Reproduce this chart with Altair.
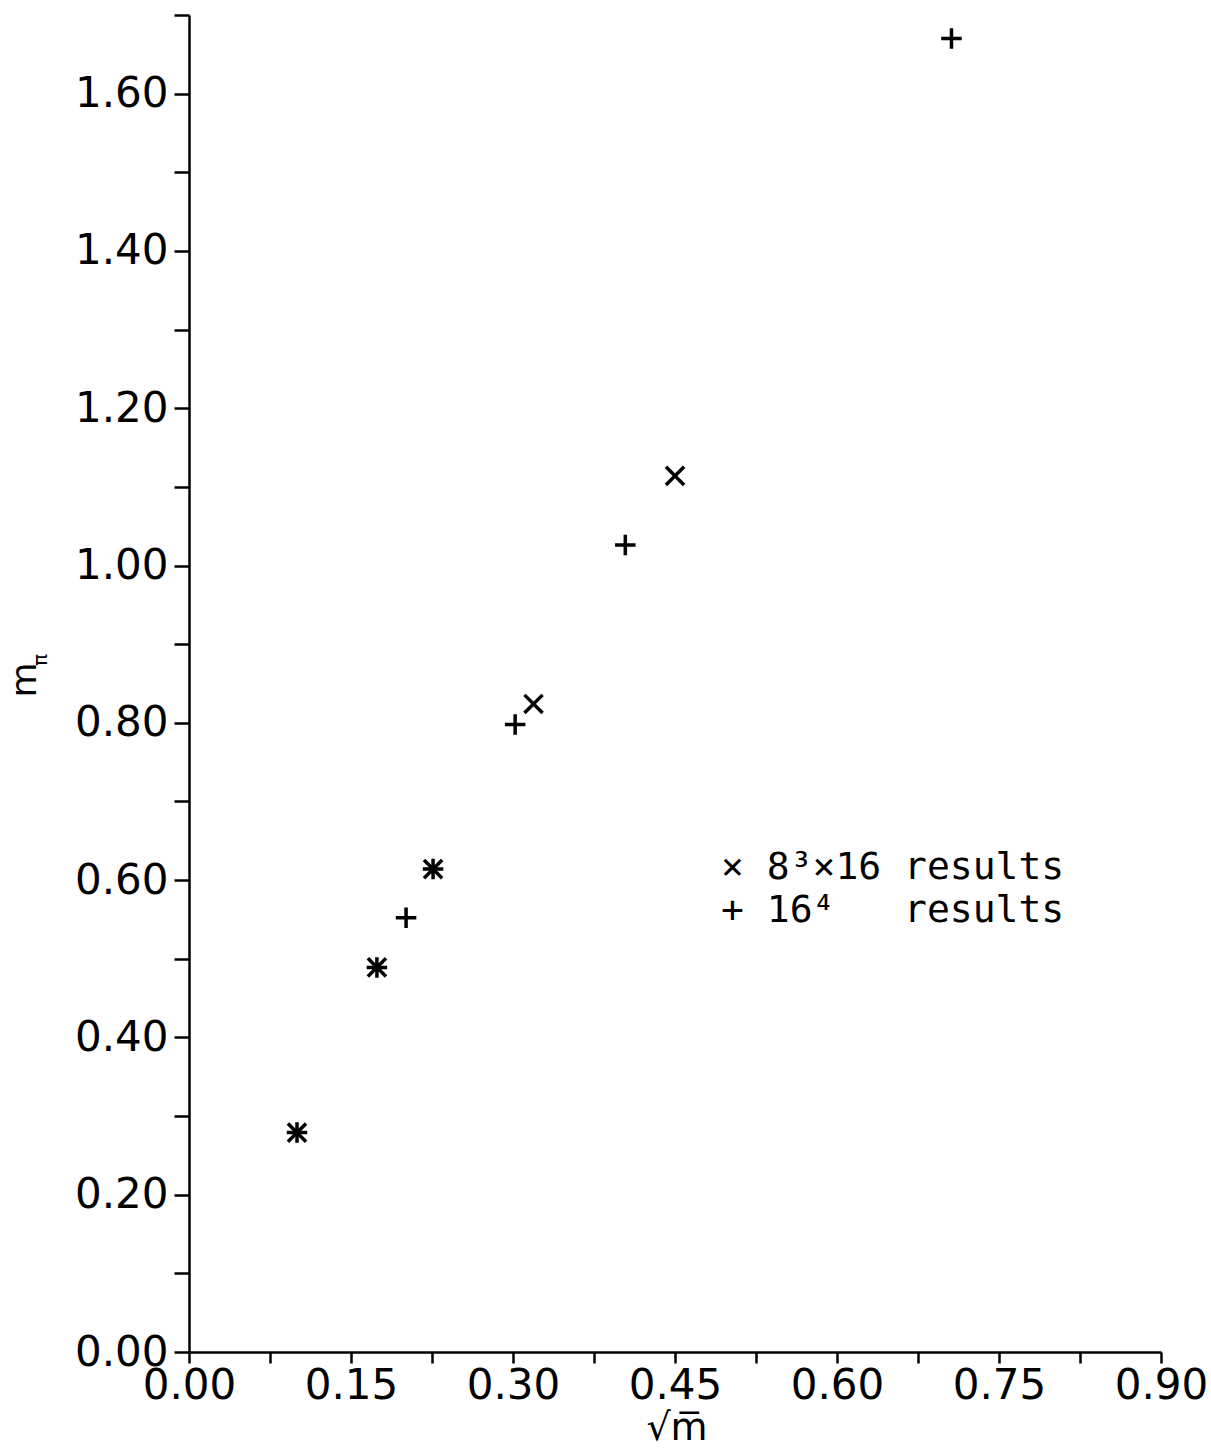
import altair as alt
import pandas as pd

# pion mass vs sqrt(quark mass)
# 8^3 x 16 lattice
x_8 = [0.100, 0.174, 0.226, 0.319, 0.450]
y_8 = [0.279, 0.489, 0.614, 0.824, 1.114]
# 16^4 lattice
x_16 = [0.100, 0.174, 0.201, 0.226, 0.302, 0.404, 0.706]
y_16 = [0.279, 0.489, 0.552, 0.614, 0.798, 1.026, 1.670]

NB = "\u00a0"
legend_rows = [f"\u00d7{NB}8\u00b3\u00d716{NB}results", f"+{NB}16\u2074{NB}{NB}{NB}results"]

x_ticks = [round(i * 0.075, 3) for i in range(13)]
y_ticks = [round(i * 0.1, 1) for i in range(18)]

LABEL_FONT = "DejaVu Sans"
MONO = "DejaVu Sans Mono"
PLUS = "M-1,0L1,0M0,-1L0,1"
CROSS = "M-1,-1L1,1M-1,1L1,-1"

df8 = pd.DataFrame({"x": x_8, "y": y_8})
df16 = pd.DataFrame({"x": x_16, "y": y_16})

x_scale = alt.Scale(domain=[0, 0.9], nice=False, zero=False)
y_scale = alt.Scale(domain=[0, 1.7], nice=False, zero=False)

x_axis = alt.Axis(
    values=x_ticks, title=None, grid=False,
    labelExpr="round(datum.value / 0.075) % 2 == 0 ? format(datum.value, '.2f') : ''",
    labelFont=LABEL_FONT, labelFontSize=42, labelColor="black", labelPadding=2,
    labelOverlap=False, labelFlush=False, labelBound=False,
    tickSize=11, tickWidth=2.5, tickColor="black",
    domainColor="black", domainWidth=2.5,
)
y_axis = alt.Axis(
    values=y_ticks, title=None, grid=False,
    labelExpr="round(datum.value * 10) % 2 == 0 ? format(datum.value, '.2f') : ''",
    labelFont=LABEL_FONT, labelFontSize=42, labelColor="black", labelPadding=6,
    labelOverlap=False, labelFlush=False, labelBound=False,
    tickSize=15, tickWidth=2.5, tickColor="black",
    domainColor="black", domainWidth=2.5,
)

pts8 = alt.Chart(df8).mark_point(
    shape=CROSS, size=330, filled=False, stroke="black", strokeWidth=3.5, opacity=1
).encode(
    x=alt.X("x:Q", scale=x_scale, axis=x_axis),
    y=alt.Y("y:Q", scale=y_scale, axis=y_axis),
)

pts16 = alt.Chart(df16).mark_point(
    shape=PLUS, size=420, filled=False, stroke="black", strokeWidth=3.5, opacity=1
).encode(
    x=alt.X("x:Q", scale=x_scale),
    y=alt.Y("y:Q", scale=y_scale),
)

leg_df = pd.DataFrame({"label": legend_rows, "x": [0.4926, 0.4926], "y": [0.602, 0.5467]})
legend = alt.Chart(leg_df).mark_text(
    font=MONO, fontSize=38, align="left", baseline="alphabetic", color="black"
).encode(
    x=alt.X("x:Q", scale=x_scale),
    y=alt.Y("y:Q", scale=y_scale),
    text="label:N",
)

one = pd.DataFrame({"a": [0]})
x_title = alt.Chart(one).mark_text(
    text="\u221am\u0305", font="DejaVu Sans", fontSize=38, align="center",
    baseline="alphabetic", color="black"
).encode(x=alt.value(488), y=alt.value(1425))

y_title_m = alt.Chart(one).mark_text(
    text="m", font="DejaVu Sans", fontSize=36, angle=270, align="center",
    baseline="middle", color="black"
).encode(x=alt.value(-164), y=alt.value(665))

y_title_pi = alt.Chart(one).mark_text(
    text="\u03c0", font="DejaVu Sans", fontSize=20, angle=270, align="center",
    baseline="middle", color="black"
).encode(x=alt.value(-148), y=alt.value(645))

chart = alt.layer(pts8, pts16, legend, x_title, y_title_m, y_title_pi).properties(
    width=972, height=1337,
    autosize=alt.AutoSizeParams(type="none"),
    padding={"left": 189, "top": 15, "right": 50, "bottom": 96},
    background="white",
).configure_view(stroke=None)

chart.save("out.html", embed_options={"renderer": "svg", "actions": False})
